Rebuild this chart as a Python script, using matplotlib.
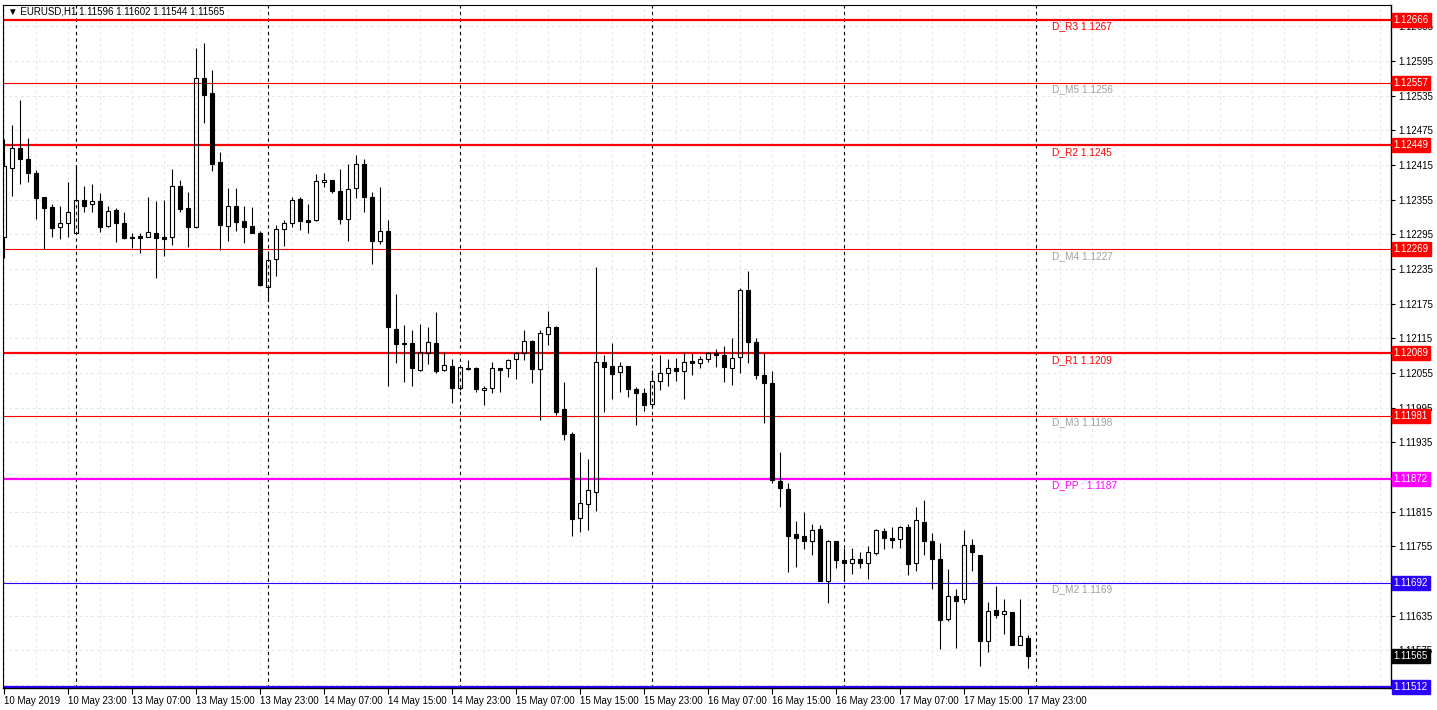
import matplotlib
matplotlib.use('Agg')
import matplotlib.pyplot as plt
import matplotlib.transforms as mtransforms
from matplotlib.patches import Rectangle

# ---------------- data ----------------
opens = [1.12290, 1.12410, 1.12445, 1.12425, 1.12402, 1.12359, 1.12342, 1.12307, 1.12314, 1.12298,
         1.12354, 1.12347, 1.12352, 1.12309, 1.12337, 1.12314, 1.12290, 1.12292, 1.12291, 1.12297,
         1.12290, 1.12290, 1.12378, 1.12340, 1.12308, 1.12565, 1.12540, 1.12420, 1.12310, 1.12345,
         1.12318, 1.12309, 1.12297, 1.12204, 1.12252, 1.12305, 1.12314, 1.12356, 1.12320, 1.12320,
         1.12385, 1.12390, 1.12370, 1.12322, 1.12376, 1.12416, 1.12359, 1.12284, 1.12301, 1.12131,
         1.12107, 1.12107, 1.12061, 1.12090, 1.12107, 1.12060, 1.12068, 1.12029, 1.12063, 1.12064,
         1.12026, 1.12029, 1.12064, 1.12063, 1.12079, 1.12090, 1.12111, 1.12062, 1.12122, 1.12135,
         1.11992, 1.11950, 1.11805, 1.11829, 1.11850, 1.12074, 1.12068, 1.12057, 1.12067, 1.12028,
         1.12021, 1.12001, 1.12041, 1.12055, 1.12064, 1.12058, 1.12076, 1.12072, 1.12079, 1.12090,
         1.12086, 1.12064, 1.12083, 1.12198, 1.12109, 1.12052, 1.12037, 1.11869, 1.11855, 1.11776,
         1.11773, 1.11765, 1.11785, 1.11695, 1.11764, 1.11731, 1.11726, 1.11733, 1.11726, 1.11743,
         1.11782, 1.11770, 1.11767, 1.11788, 1.11726, 1.11798, 1.11765, 1.11733, 1.11629, 1.11669,
         1.11664, 1.11758, 1.11741, 1.11591, 1.11645, 1.11638, 1.11641, 1.11584, 1.11596]
highs = [1.12460, 1.12485, 1.12528, 1.12462, 1.12406, 1.12360, 1.12347, 1.12345, 1.12385, 1.12413,
         1.12378, 1.12382, 1.12367, 1.12345, 1.12340, 1.12333, 1.12297, 1.12297, 1.12360, 1.12353,
         1.12354, 1.12408, 1.12390, 1.12368, 1.12617, 1.12627, 1.12580, 1.12437, 1.12375, 1.12375,
         1.12345, 1.12342, 1.12301, 1.12267, 1.12311, 1.12320, 1.12360, 1.12360, 1.12348, 1.12399,
         1.12401, 1.12390, 1.12408, 1.12416, 1.12432, 1.12425, 1.12368, 1.12377, 1.12320, 1.12192,
         1.12139, 1.12130, 1.12140, 1.12135, 1.12161, 1.12091, 1.12080, 1.12065, 1.12078, 1.12066,
         1.12032, 1.12075, 1.12064, 1.12080, 1.12092, 1.12130, 1.12113, 1.12130, 1.12163, 1.12137,
         1.12040, 1.11953, 1.11919, 1.11907, 1.12239, 1.12087, 1.12107, 1.12074, 1.12067, 1.12031,
         1.12030, 1.12060, 1.12086, 1.12080, 1.12081, 1.12091, 1.12090, 1.12084, 1.12091, 1.12097,
         1.12102, 1.12115, 1.12203, 1.12232, 1.12115, 1.12090, 1.12059, 1.11919, 1.11865, 1.11799,
         1.11814, 1.11793, 1.11792, 1.11766, 1.11764, 1.11753, 1.11752, 1.11745, 1.11755, 1.11786,
         1.11787, 1.11789, 1.11790, 1.11794, 1.11824, 1.11836, 1.11779, 1.11761, 1.11716, 1.11681,
         1.11784, 1.11768, 1.11741, 1.11658, 1.11686, 1.11664, 1.11641, 1.11664, 1.11602]
lows = [1.12255, 1.12361, 1.12382, 1.12386, 1.12322, 1.12270, 1.12291, 1.12287, 1.12291, 1.12297,
        1.12334, 1.12334, 1.12300, 1.12307, 1.12282, 1.12287, 1.12272, 1.12263, 1.12290, 1.12220,
        1.12258, 1.12276, 1.12334, 1.12273, 1.12306, 1.12487, 1.12405, 1.12268, 1.12284, 1.12301,
        1.12280, 1.12297, 1.12206, 1.12180, 1.12223, 1.12275, 1.12308, 1.12302, 1.12298, 1.12318,
        1.12377, 1.12366, 1.12313, 1.12284, 1.12358, 1.12334, 1.12244, 1.12279, 1.12032, 1.12072,
        1.12039, 1.12032, 1.12058, 1.12070, 1.12056, 1.12058, 1.12004, 1.12025, 1.12061, 1.12022,
        1.12000, 1.12020, 1.12023, 1.12049, 1.12045, 1.12078, 1.12037, 1.11973, 1.12104, 1.11983,
        1.11940, 1.11773, 1.11780, 1.11784, 1.11816, 1.11987, 1.12010, 1.12023, 1.12014, 1.11965,
        1.11989, 1.11994, 1.12026, 1.12032, 1.12041, 1.12010, 1.12051, 1.12063, 1.12074, 1.12066,
        1.12039, 1.12034, 1.12056, 1.12072, 1.12044, 1.11969, 1.11864, 1.11823, 1.11711, 1.11719,
        1.11750, 1.11740, 1.11695, 1.11657, 1.11718, 1.11695, 1.11708, 1.11718, 1.11699, 1.11740,
        1.11750, 1.11753, 1.11752, 1.11705, 1.11712, 1.11741, 1.11681, 1.11577, 1.11626, 1.11580,
        1.11657, 1.11712, 1.11548, 1.11572, 1.11632, 1.11604, 1.11585, 1.11584, 1.11544]
closes = [1.12413, 1.12445, 1.12425, 1.12401, 1.12358, 1.12341, 1.12306, 1.12314, 1.12333, 1.12354,
          1.12344, 1.12352, 1.12308, 1.12336, 1.12315, 1.12289, 1.12289, 1.12289, 1.12299, 1.12289,
          1.12287, 1.12378, 1.12339, 1.12308, 1.12566, 1.12537, 1.12417, 1.12311, 1.12345, 1.12317,
          1.12308, 1.12298, 1.12207, 1.12251, 1.12304, 1.12314, 1.12354, 1.12318, 1.12317, 1.12387,
          1.12390, 1.12370, 1.12322, 1.12374, 1.12416, 1.12360, 1.12284, 1.12301, 1.12134, 1.12106,
          1.12105, 1.12063, 1.12091, 1.12109, 1.12058, 1.12069, 1.12029, 1.12065, 1.12062, 1.12027,
          1.12030, 1.12064, 1.12061, 1.12078, 1.12090, 1.12110, 1.12062, 1.12125, 1.12135, 1.11988,
          1.11950, 1.11802, 1.11831, 1.11852, 1.12074, 1.12066, 1.12054, 1.12067, 1.12027, 1.12020,
          1.11999, 1.12041, 1.12055, 1.12064, 1.12058, 1.12074, 1.12072, 1.12079, 1.12089, 1.12087,
          1.12065, 1.12081, 1.12198, 1.12108, 1.12051, 1.12037, 1.11870, 1.11856, 1.11773, 1.11770,
          1.11765, 1.11784, 1.11695, 1.11764, 1.11732, 1.11726, 1.11733, 1.11726, 1.11745, 1.11783,
          1.11770, 1.11766, 1.11788, 1.11725, 1.11800, 1.11764, 1.11733, 1.11628, 1.11669, 1.11661,
          1.11757, 1.11745, 1.11592, 1.11643, 1.11637, 1.11643, 1.11585, 1.11600, 1.11565]

time_labels = ["10 May 2019", "10 May 23:00", "13 May 07:00", "13 May 15:00", "13 May 23:00",
               "14 May 07:00", "14 May 15:00", "14 May 23:00", "15 May 07:00", "15 May 15:00",
               "15 May 23:00", "16 May 07:00", "16 May 15:00", "16 May 23:00", "17 May 07:00",
               "17 May 15:00", "17 May 23:00"]
label_bar_step = 8          # one time label every 8 hourly bars
day_starts = [9, 33, 57, 81, 105, 129]   # bar index of each day's first hour (separators)

level_prices = [1.12666, 1.12557, 1.12449, 1.12269, 1.12089, 1.11981, 1.11872, 1.11692, 1.11512]
level_texts = ["D_R3 1.1267", "D_M5 1.1256", "D_R2 1.1245", "D_M4 1.1227", "D_R1 1.1209",
               "D_M3 1.1198", "D_PP : 1.1187", "D_M2 1.1169", None]
level_colors = ["#ff0000", "#ff0000", "#ff0000", "#ff0000", "#ff0000", "#ff0000",
                "#ff00ff", "#2a00ff", "#2a00ff"]
level_text_colors = ["#ff0000", "#a0a0a0", "#ff0000", "#a0a0a0", "#ff0000", "#a0a0a0",
                     "#ff00ff", "#a0a0a0", None]
level_widths = [1.6, 0.8, 1.6, 0.8, 1.6, 0.8, 1.6, 0.8, 1.6]

yticks = [1.11515, 1.11575, 1.11635, 1.11695, 1.11755, 1.11815, 1.11875, 1.11935, 1.11995,
          1.12055, 1.12115, 1.12175, 1.12235, 1.12295, 1.12355, 1.12415, 1.12475, 1.12535,
          1.12595, 1.12655]
hidden_ticks = [1.11515, 1.11695, 1.11875]   # labels fully covered by price tags

symbol_text = "\u25BC EURUSD,H1 1.11596 1.11602 1.11544 1.11565"
bid_price = 1.11565

# ---------------- figure ----------------
W, H = 1437, 710
fig = plt.figure(figsize=(W / 100, H / 100), dpi=100)
fig.patch.set_facecolor('white')
L_px, R_px, T_px, B_px = 3, 1391, 5, 688
ax = fig.add_axes([L_px / W, (H - B_px) / H, (R_px - L_px) / W, (B_px - T_px) / H])
ax.set_facecolor('white')

n = len(opens)
ax.set_xlim(-0.16, 173.34)
ax.set_ylim(1.11510, 1.12692)

FONT = ['Liberation Sans', 'DejaVu Sans']

# faint grid
for gx in range(0, 174, 4):
    ax.axvline(gx, color='#e6e6e6', lw=0.7, ls=(0, (3, 3)), zorder=0)
for gy in yticks:
    ax.axhline(gy, color='#e6e6e6', lw=0.7, ls=(0, (3, 3)), zorder=0)

# day separators
for d in day_starts:
    ax.axvline(d, color='black', lw=0.8, ls=(0, (3, 3)), zorder=1)

# levels
for p, c, w in zip(level_prices, level_colors, level_widths):
    ax.axhline(p, color=c, lw=w, zorder=2)

# candles
bw = 0.5
for i in range(n):
    o, h, l, c = opens[i], highs[i], lows[i], closes[i]
    top, bot = max(o, c), min(o, c)
    ax.vlines(i, top, h, color='black', lw=0.8, zorder=3)
    ax.vlines(i, l, bot, color='black', lw=0.8, zorder=3)
    bull = c >= o
    ax.add_patch(Rectangle((i - bw / 2, bot), bw, top - bot,
                           facecolor='none' if bull else 'black',
                           edgecolor='black', lw=0.8, zorder=4))

# level text labels
txt_off = mtransforms.offset_copy(ax.transData, fig=fig, x=0, y=-1.5, units='dots')
for p, t, tc in zip(level_prices, level_texts, level_text_colors):
    if t:
        ax.text(131, p, t, color=tc, fontsize=7.3, family=FONT, va='top', ha='left',
                transform=txt_off, zorder=5)

# axes styling
for s in ['left', 'top']:
    ax.spines[s].set_color('black')
    ax.spines[s].set_linewidth(0.8)
ax.spines['right'].set_linewidth(1.0)
ax.spines['bottom'].set_linewidth(1.0)

ax.yaxis.tick_right()
ax.set_yticks(yticks)
ax.set_yticklabels(["" if v in hidden_ticks else f"{v:.5f}" for v in yticks],
                   family=FONT, fontsize=7)
ax.tick_params(axis='y', direction='out', length=3, width=0.8, pad=2, colors='black')

xt = [k * label_bar_step for k in range(len(time_labels))]
ax.set_xticks(xt)
ax.set_xticklabels(time_labels, family=FONT, fontsize=7)
for lab in ax.get_xticklabels():
    lab.set_horizontalalignment('left')
ax.tick_params(axis='x', direction='out', length=4, width=0.8, pad=2, colors='black')

# price tags on the right axis
ytrans = mtransforms.blended_transform_factory(ax.transAxes, ax.transData)
tag_prices = level_prices[:8] + [bid_price, level_prices[8]]
tag_colors = level_colors[:8] + ['black', level_colors[8]]
for p, c in zip(tag_prices, tag_colors):
    ax.text(1.0018, p, f"{p:.5f}", transform=ytrans, color='white', fontsize=7,
            family=FONT, va='center', ha='left', clip_on=False, zorder=10,
            bbox=dict(boxstyle='square,pad=0.2', facecolor=c, edgecolor=c))

# header
fig.text(8 / W, 1 - 12 / H, symbol_text, fontsize=7, family=FONT, va='center', ha='left')

fig.savefig('out.png', dpi=100, facecolor='white')
